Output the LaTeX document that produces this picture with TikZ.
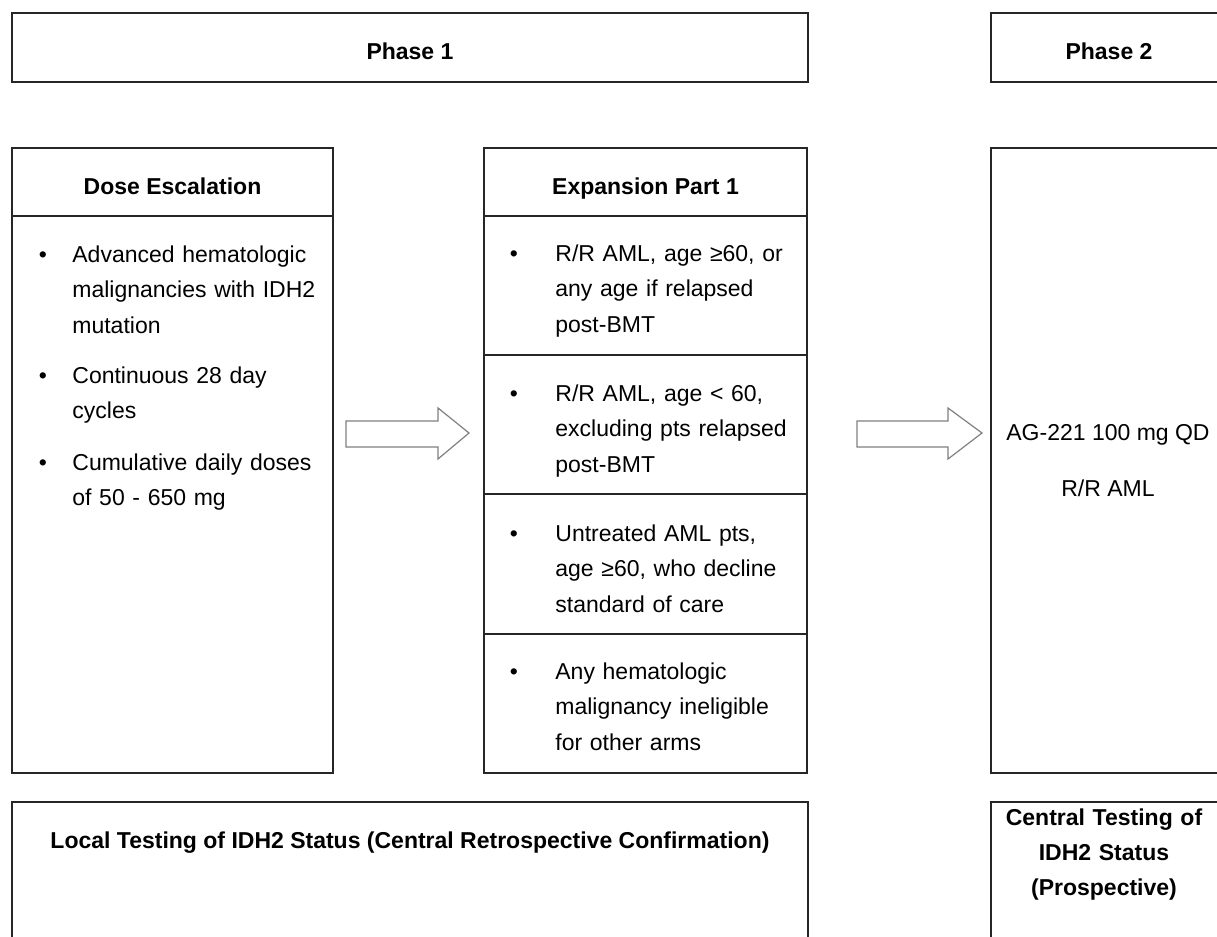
\documentclass[tikz,border=0pt]{standalone}
\usepackage{fontspec}
\setmainfont{Liberation Sans}
\begin{document}
\begin{tikzpicture}[x=0.5pt,y=-0.5pt,
  box/.style={draw=black!85,line width=0.6pt,inner sep=0pt,minimum width=#1},
  hdr/.style={font=\fontsize{11.5}{17.75}\selectfont\bfseries,inner sep=0pt,anchor=base},
  body/.style={font=\fontsize{11.5}{17.75}\selectfont,inner sep=0pt,anchor=base west,text width=125pt,align=left},
  bul/.style={font=\fontsize{11.5}{17.75}\selectfont,inner sep=0pt,anchor=base},
  blockarrow/.style={draw=black!50,fill=white,line width=0.6pt,line join=miter}
]
\clip (0,0) rectangle (1217,937);
\fill[white] (0,0) rectangle (1217,937);
% top phase boxes
\node[box=398pt,minimum height=34.5pt] (phase1) at (410,47.5) {};
\node[hdr] (phase1t) at (410,60) {Phase 1};
\node[box=118pt,minimum height=34.5pt] (phase2) at (1109,47.5) {};
\node[hdr] (phase2t) at (1109,60) {Phase 2};
% dose escalation
\node[box=160.5pt,minimum height=34pt] (doseh) at (172.5,182) {};
\node[hdr] (dosehT) at (172.5,194) {Dose Escalation};
\node[box=160.5pt,minimum height=278.5pt] (doseb) at (172.5,494.5) {};
\node[bul] (db1) at (43,262) {•};
\node[body] (dt1) at (72,262) {Advanced hematologic\\malignancies with IDH2\\mutation};
\node[bul] (db2) at (43,383) {•};
\node[body] (dt2) at (72,383) {Continuous 28 day\\cycles};
\node[bul] (db3) at (43,470) {•};
\node[body] (dt3) at (72,470) {Cumulative daily doses\\of 50 - 650 mg};
% expansion part 1
\node[box=161.5pt,minimum height=34pt] (exph) at (645.5,182) {};
\node[hdr] (exphT) at (645.5,194) {Expansion Part 1};
\node[box=161.5pt,minimum height=69.5pt] (exp1) at (645.5,285.5) {};
\node[box=161.5pt,minimum height=69.5pt] (exp2) at (645.5,424.5) {};
\node[box=161.5pt,minimum height=70pt] (exp3) at (645.5,564) {};
\node[box=161.5pt,minimum height=69.5pt] (exp4) at (645.5,703.5) {};
\node[bul] (eb1) at (514,261) {•};
\node[body] (et1) at (555,261) {R/R AML, age ≥60, or\\any age if relapsed\\post-BMT};
\node[bul] (eb2) at (514,401) {•};
\node[body] (et2) at (555,401) {R/R AML, age < 60,\\excluding pts relapsed\\post-BMT};
\node[bul] (eb3) at (514,541) {•};
\node[body] (et3) at (555,541) {Untreated AML pts,\\age ≥60, who decline\\standard of care};
\node[bul] (eb4) at (514,679) {•};
\node[body] (et4) at (555,679) {Any hematologic\\malignancy ineligible\\for other arms};
% phase 2 body
\node[box=118pt,minimum height=312.5pt] (p2b) at (1109,460.5) {};
\node[font=\fontsize{11.5}{17.75}\selectfont,inner sep=0pt,anchor=base] (p2t1) at (1108,440) {AG-221 100 mg QD};
\node[font=\fontsize{11.5}{17.75}\selectfont,inner sep=0pt,anchor=base] (p2t2) at (1108,496) {R/R AML};
% block arrows
\draw[blockarrow] (346,421) -- (438,421) -- (438,408) -- (469,433) -- (438,459) -- (438,447) -- (346,447) -- cycle;
\draw[blockarrow] (857,421) -- (948,421) -- (948,408) -- (982,433) -- (948,459) -- (948,447) -- (857,447) -- cycle;
% bottom boxes
\node[box=398pt,minimum height=80pt] (local) at (410,882) {};
\node[hdr] (localT) at (410,848) {Local Testing of IDH2 Status (Central Retrospective Confirmation)};
\node[box=118pt,minimum height=80pt] (central) at (1109,882) {};
\node[hdr,text width=118pt,align=center,font=\fontsize{11.5}{17.5}\selectfont\bfseries] (centralT) at (1104,825) {Central Testing of\\IDH2 Status\\(Prospective)};
\end{tikzpicture}
\end{document}
